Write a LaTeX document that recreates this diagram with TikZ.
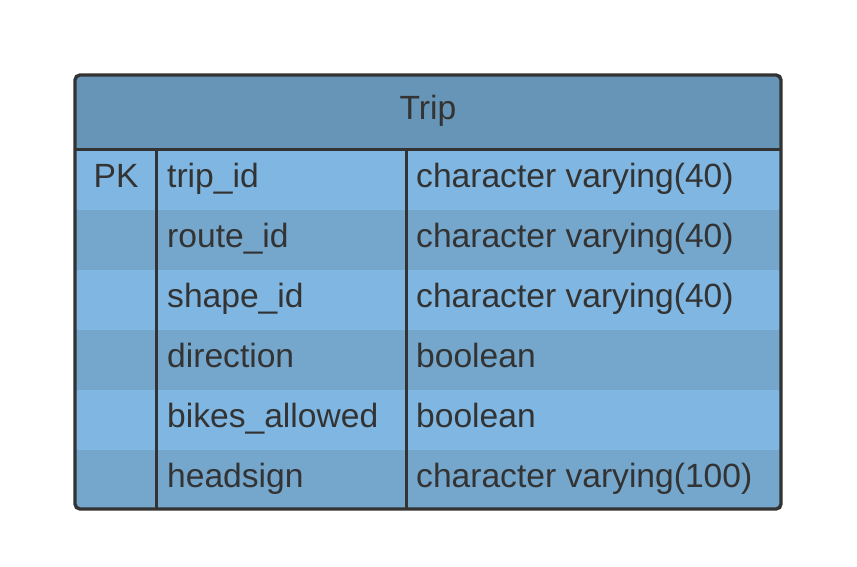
\documentclass[tikz,border=0pt]{standalone}
\usepackage{fontspec}
\setmainfont{Liberation Sans}
\usepackage{tikz}

\definecolor{headfill}{HTML}{6795B7}
\definecolor{rowlight}{HTML}{7FB7E2}
\definecolor{rowdark}{HTML}{75A7CD}
\definecolor{ink}{HTML}{333333}

\tikzset{
  cell/.style={anchor=base west, inner sep=0pt, text=ink, font=\fontsize{33.6}{40}\selectfont},
  title/.style={anchor=base, inner sep=0pt, text=ink, font=\fontsize{33.6}{40}\selectfont}
}

\begin{document}
\begin{tikzpicture}[x=1pt,y=-1pt]
    \useasboundingbox (0,0) rectangle (857,567);
    \begin{scope}
      \clip[rounded corners=5pt] (75,75) rectangle (781,509);
      \fill[headfill] (75,75) rectangle (781,150);
      \foreach \top/\shade in {150/rowlight,210/rowdark,270/rowlight,330/rowdark,390/rowlight,450/rowdark}
        \fill[\shade] (75,\top) rectangle (781,\top+60);
    \end{scope}
    \draw[ink, line width=3pt] (75,150) -- (781,150);
    \draw[ink, line width=3pt] (156.7,150) -- (156.7,509);
    \draw[ink, line width=3pt] (406,150) -- (406,509);
    \draw[ink, line width=3.4pt, rounded corners=5pt] (75,75) rectangle (781,509);
    \node[title] (trip) at (428,120) {Trip};
    \node[anchor=base, inner sep=0pt, text=ink, font=\fontsize{33.6}{40}\selectfont] (pk) at (116,187) {PK};
    \foreach \y/\name/\kind/\id in {187/trip\_id/character varying(40)/tripid,
                                     247/route\_id/character varying(40)/routeid,
                                     307/shape\_id/character varying(40)/shapeid,
                                     367/direction/boolean/direction,
                                     427/bikes\_allowed/boolean/bikes,
                                     487/headsign/character varying(100)/headsign} {
      \node[cell] (\id) at (167,\y) {\name};
      \node[cell] (\id-type) at (416,\y) {\kind};
    }
  \end{tikzpicture}
\end{document}
